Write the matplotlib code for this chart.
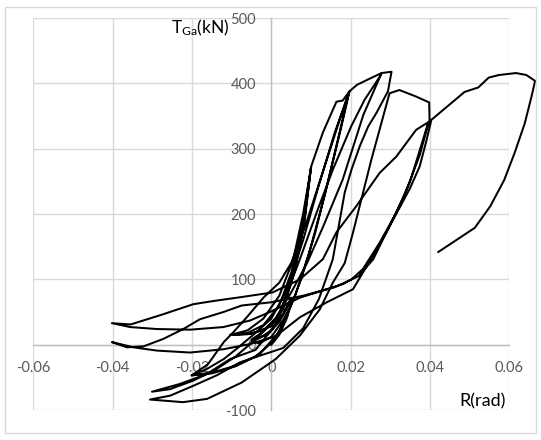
import matplotlib
matplotlib.use("Agg")
import matplotlib.pyplot as plt
from matplotlib.patches import Rectangle

# Cyclic test record: drift angle R (rad) and force T_Ga (kN), one array pair per stage
r_small = [0, 0.002, 0.004, 0.0045, 0.003, 0, -0.003, -0.005, -0.003, 0, 0.003, 0.005, 0.0045, 0.002, -0.001, -0.005]
t_small = [0, 15, 42, 55, 38, 12, 2, 5, 10, 22, 48, 72, 62, 35, 15, 8]

r_010 = [-0.002, 0.002, 0.005, 0.0075, 0.0100, 0.0085, 0.006, 0.003, 0, -0.005, -0.0103,
         -0.006, -0.002, 0.002, 0.005, 0.0075, 0.0098, 0.008, 0.005, 0.002, -0.002, -0.006, -0.0103]
t_010 = [20, 45, 95, 165, 272, 195, 115, 55, 28, 17, 15,
         18, 30, 60, 110, 172, 262, 175, 95, 45, 22, 16, 15]

r_020a = [-0.006, -0.002, 0.002, 0.0055, 0.008, 0.0101, 0.013, 0.0164, 0.018, 0.0197,
          0.0175, 0.0145, 0.011, 0.0075, 0.004, 0.0005, -0.004, -0.009, -0.0145, -0.0201]
t_020a = [22, 40, 75, 130, 200, 274, 325, 372, 374, 388,
          330, 255, 170, 100, 45, 5, -18, -32, -42, -47]

r_020b = [-0.0165, -0.012, -0.0085, -0.004, 0, 0.004, 0.008, 0.012, 0.016, 0.0195,
          0.017, 0.0135, 0.0095, 0.006, 0.002, -0.003, -0.009, -0.015, -0.0201]
t_020b = [-38, -22, -5, 18, 40, 85, 160, 245, 325, 385,
          320, 230, 140, 75, 20, -15, -33, -44, -47]

r_030a = [-0.016, -0.012, -0.0096, -0.0062, -0.002, 0.002, 0.005, 0.009, 0.013, 0.017, 0.0197, 0.0216, 0.025, 0.0278,
          0.0273, 0.0235, 0.0201, 0.0155, 0.0114, 0.0072, 0.004, 0.001, -0.004, -0.0104, -0.0163, -0.023, -0.0301]
t_030a = [-30, 4, 19, 42, 72, 95, 125, 190, 265, 340, 388, 398, 408, 416,
          410, 375, 334, 268, 202, 131, 80, 30, -8, -22, -45, -60, -72]

r_030b = [-0.0255, -0.0197, -0.014, -0.009, -0.004, 0.001, 0.005, 0.009, 0.013, 0.018, 0.0232, 0.0278, 0.0303,
          0.0294, 0.0265, 0.0244, 0.0223, 0.0202, 0.0185, 0.0155, 0.012, 0.008, 0.003, -0.002, -0.0079, -0.0138, -0.0197, -0.0255, -0.0306]
t_030b = [-68, -55, -38, -18, 8, 40, 80, 125, 180, 253, 352, 416, 418,
          388, 355, 334, 304, 268, 233, 131, 70, 25, -5, -15, -27, -47, -63, -78, -84]

r_040a = [-0.0223, -0.0162, -0.0075, 0.0011, 0.0072, 0.0122, 0.0155, 0.0185, 0.0206, 0.0252, 0.0298, 0.0323, 0.0365, 0.0398, 0.0399,
          0.0365, 0.0315, 0.0273, 0.0214, 0.0164, 0.013, 0.0072, 0.0003, -0.0075, -0.0145, -0.0197, -0.0276, -0.0355, -0.0402]
t_040a = [-88, -83, -58, -22, 14, 54, 95, 125, 172, 283, 385, 390, 380, 371, 342,
          329, 288, 263, 212, 172, 131, 100, 80, 73, 67, 62, 46, 31, 33]

r_040b = [-0.0356, -0.0289, -0.0205, -0.0121, -0.0054, -0.0004, 0.0072, 0.0181, 0.0202, 0.0231, 0.0273, 0.0315, 0.035, 0.0394, 0.0403,
          0.039, 0.0374, 0.035, 0.029, 0.0257, 0.022, 0.016, 0.008, 0, -0.0075, -0.0121, -0.018, -0.0222, -0.0272, -0.0322, -0.0364, -0.0402]
t_040b = [27, 24, 23, 27, 37, 50, 72, 93, 100, 116, 156, 202, 250, 337, 343,
          310, 273, 240, 172, 131, 105, 88, 75, 65, 60, 50, 39, 24, 9, -2.5, -4, 4]

r_final = [-0.0348, -0.0289, -0.0205, -0.0121, -0.0054, 0.0011, 0.0072, 0.014, 0.0206, 0.024, 0.029, 0.0335, 0.0374, 0.0397,
           0.0444, 0.0487, 0.0522, 0.0548, 0.0574, 0.0617, 0.0643, 0.0665, 0.0656, 0.0639, 0.0613, 0.0587, 0.0552, 0.0513, 0.0421]
t_final = [-4, -9, -12, -7, 1, 13, 42, 65, 85, 120, 172, 228, 290, 341,
           365, 387, 394, 409, 413, 416, 413, 404, 380, 339, 293, 252, 212, 179, 142]

x_ticks = [-0.06, -0.04, -0.02, 0, 0.02, 0.04, 0.06]
x_labels = ["-0.06", "-0.04", "-0.02", "0", "0.02", "0.04", "0.06"]
y_ticks = [-100, 0, 100, 200, 300, 400, 500]
y_labels = ["-100", "0", "100", "200", "300", "400", "500"]

stages = [(r_small, t_small), (r_010, t_010), (r_020a, t_020a), (r_020b, t_020b),
          (r_030a, t_030a), (r_030b, t_030b), (r_040a, t_040a), (r_040b, t_040b),
          (r_final, t_final)]
R = [v for r, _ in stages for v in r]
T = [v for _, t in stages for v in t]

plt.rcParams["font.family"] = ["Lato", "DejaVu Sans"]

W, H = 541, 440
fig = plt.figure(figsize=(W / 100, H / 100), dpi=100)
fig.patch.set_facecolor("white")

# light chart-area frame
fig.patches.append(Rectangle((5 / W, 7 / H), 531 / W, 426 / H, transform=fig.transFigure,
                             fill=False, edgecolor="#d9d9d9", linewidth=1.0))

ax = fig.add_axes([33.4 / W, 30 / H, 475.9 / W, 391.8 / H])
ax.set_xlim(-0.06, 0.06)
ax.set_ylim(-100, 500)

# the last excursion runs past the +0.06 gridline, so the curve is not clipped
ax.plot(R, T, color="black", linewidth=1.45, solid_joinstyle="round", zorder=3, clip_on=False)

ax.set_xticks(x_ticks)
ax.set_xticklabels(x_labels)
ax.set_yticks(y_ticks)
ax.set_yticklabels(y_labels)
ax.grid(True, color="#d9d9d9", linewidth=1.0, zorder=0)
ax.set_axisbelow(True)

for s in ("top", "right"):
    ax.spines[s].set_visible(False)
ax.spines["left"].set_position(("data", 0))
ax.spines["bottom"].set_position(("data", 0))
for s in ("left", "bottom"):
    ax.spines[s].set_color("#bfbfbf")
    ax.spines[s].set_linewidth(1.0)

ax.tick_params(axis="both", length=0, labelsize=10.5, colors="#595959")
ax.tick_params(axis="x", pad=12)
ax.tick_params(axis="y", pad=11)
for lab in ax.get_xticklabels() + ax.get_yticklabels():
    lab.set_color("#595959")

fig.text(171 / W, 1 - 33 / H, r"$\mathregular{T_{Ga}(kN)}$", fontsize=12.5, color="black",
         ha="left", va="baseline")
fig.text(506 / W, 1 - 401 / H, "R(rad)", fontsize=13, color="black", ha="right", va="center")

fig.savefig("out.png", dpi=100, facecolor="white")
